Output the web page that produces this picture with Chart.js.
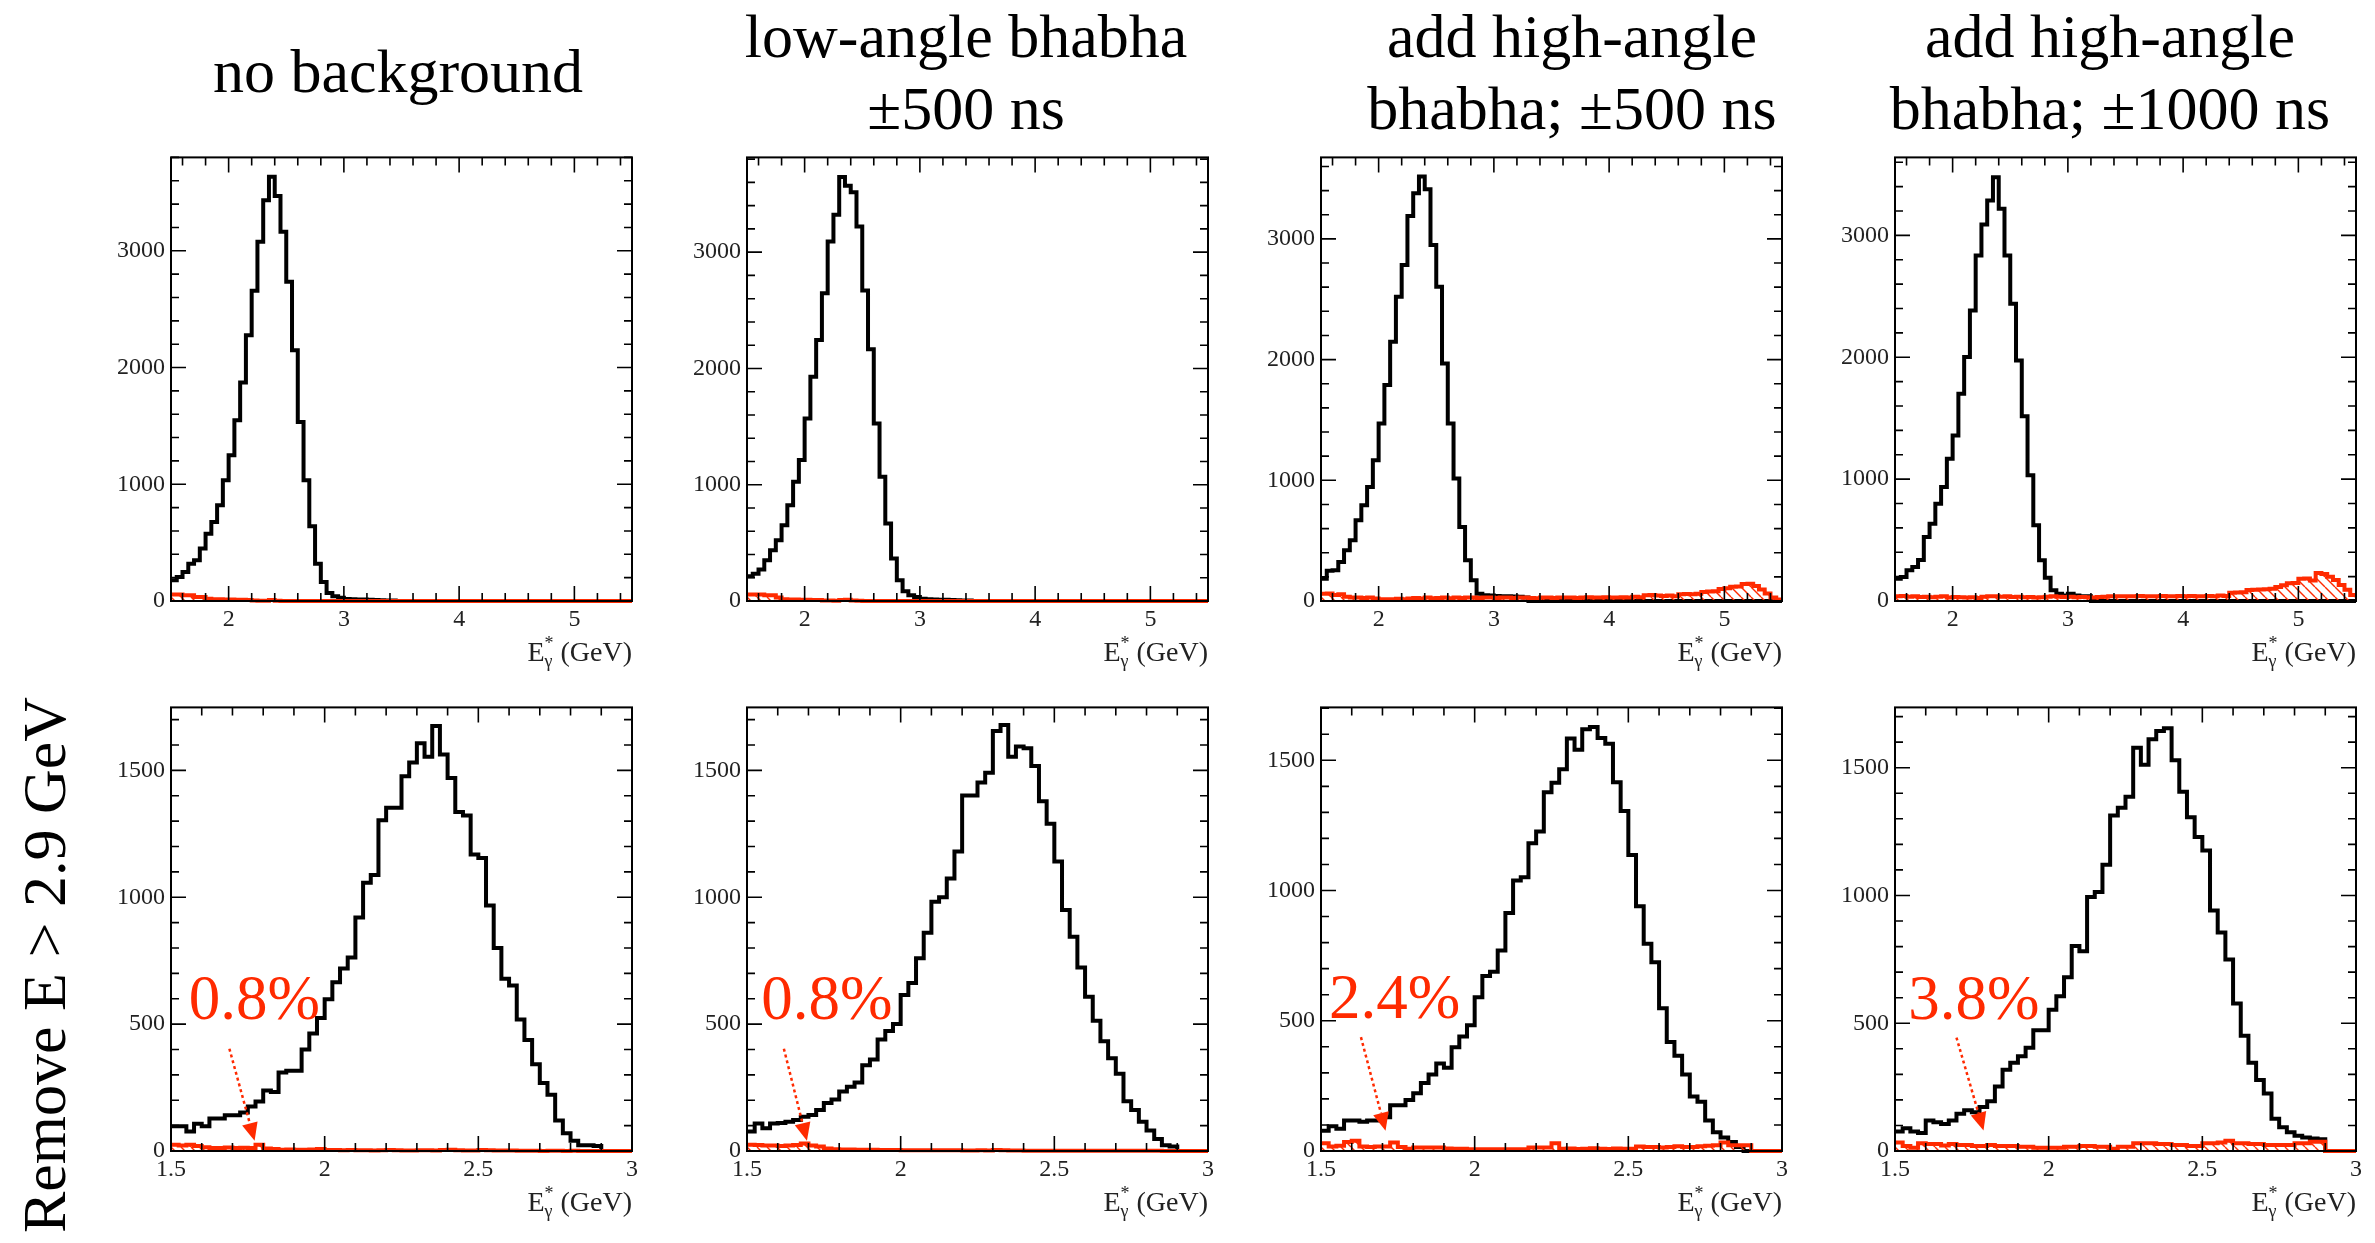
<!DOCTYPE html>
<html>
<head>
<meta charset="utf-8">
<title>E*γ spectra with bhabha background</title>
<script src="https://cdn.jsdelivr.net/npm/chart.js@4.4.1/dist/chart.umd.min.js"></script>
<style>
  body { margin: 0; background: #fff; }
  #page {
    position: relative;
    width: 2375px;
    height: 1243px;
    overflow: hidden;
    font-family: "Liberation Serif", "Times New Roman", serif;
    color: #000;
  }
  .panel { position: absolute; }
  .title {
    position: absolute;
    font-size: 62px;
    line-height: 72px;
    text-align: center;
    white-space: nowrap;
    transform: translateX(-50%);
  }
  .side {
    position: absolute;
    font-size: 62px;
    white-space: nowrap;
    transform: translate(-50%, -50%) rotate(-90deg);
  }
</style>
</head>
<body>
<div id="page"></div>
<script>
// ---- labels ----
const columnTitles = [
    ["no background"],
    ["low-angle bhabha", "±500 ns"],
    ["add high-angle", "bhabha; ±500 ns"],
    ["add high-angle", "bhabha; ±1000 ns"],
];
const sideTitle = "Remove E > 2.9 GeV";
const axisUnit = "(GeV)";
const lossLabels = ["0.8%", "0.8%", "2.4%", "3.8%"];

// ---- binning / tick labels ----
const fullRange = [1.5, 5.5];
const fullBin = 0.05;
const cutRange = [1.5, 3.0];
const cutBin = 0.025;
const fullXTicks = [2, 3, 4, 5];
const fullYTicks = [0, 1000, 2000, 3000];
const cutXTicks = [1.5, 2, 2.5, 3];
const cutYTicks = [0, 500, 1000, 1500];

// ---- top row: 1.5 - 5.5 GeV, 0.05 GeV bins (one row = 0.5 GeV) ----
const sigNoBg = [
    177, 206, 249, 320, 349, 449, 577, 677, 820, 1034,
    1249, 1549, 1871, 2277, 2657, 3077, 3434, 3634, 3469, 3163,
    2734, 2149, 1534, 1034, 640, 320, 163, 69, 40, 28,
    18, 15, 12, 12, 10, 8, 6, 5, 5, 0,
    0, 0, 0, 0, 0, 0, 0, 0, 0, 0,
    0, 0, 0, 0, 0, 0, 0, 0, 0, 0,
    0, 0, 0, 0, 0, 0, 0, 0, 0, 0,
    0, 0, 0, 0, 0, 0, 0, 0, 0, 0,
];
const bkgNoBg = [
    55, 55, 50, 50, 35, 35, 20, 15, 15, 12,
    12, 10, 10, 8, 5, 2, 3, 8, 3, 0,
    0, 0, 0, 0, 0, 0, 0, 0, 0, 0,
    0, 0, 0, 0, 0, 0, 0, 0, 0, 0,
    0, 0, 0, 0, 0, 0, 0, 0, 0, 0,
    0, 0, 0, 0, 0, 0, 0, 0, 0, 0,
    0, 0, 0, 0, 0, 0, 0, 0, 0, 0,
    0, 0, 0, 0, 0, 0, 0, 0, 0, 0,
];
const sigLowAngle = [
    212, 235, 270, 350, 436, 523, 652, 824, 1025, 1212,
    1570, 1929, 2245, 2647, 3092, 3322, 3646, 3572, 3515, 3221,
    2670, 2165, 1527, 1068, 666, 365, 178, 83, 49, 34,
    20, 15, 12, 10, 10, 8, 6, 5, 5, 0,
    0, 0, 0, 0, 0, 0, 0, 0, 0, 0,
    0, 0, 0, 0, 0, 0, 0, 0, 0, 0,
    0, 0, 0, 0, 0, 0, 0, 0, 0, 0,
    0, 0, 0, 0, 0, 0, 0, 0, 0, 0,
];
const bkgLowAngle = [
    55, 55, 55, 50, 50, 30, 15, 12, 12, 10,
    10, 8, 8, 5, 5, 3, 8, 10, 5, 2,
    0, 0, 0, 0, 0, 0, 0, 0, 0, 0,
    0, 0, 0, 0, 0, 0, 0, 0, 0, 0,
    0, 0, 0, 0, 0, 0, 0, 0, 0, 0,
    0, 0, 0, 0, 0, 0, 0, 0, 0, 0,
    0, 0, 0, 0, 0, 0, 0, 0, 0, 0,
    0, 0, 0, 0, 0, 0, 0, 0, 0, 0,
];
const sigHigh500 = [
    185, 250, 254, 323, 420, 503, 669, 793, 945, 1167,
    1471, 1789, 2148, 2521, 2784, 3190, 3378, 3517, 3412, 2950,
    2604, 1968, 1471, 1015, 614, 337, 171, 61, 47, 45,
    42, 40, 40, 38, 35, 30, 0, 0, 0, 0,
    0, 0, 0, 0, 0, 0, 0, 0, 0, 0,
    0, 0, 0, 0, 0, 0, 0, 0, 0, 0,
    0, 0, 0, 0, 0, 0, 0, 0, 0, 0,
    0, 0, 0, 0, 0, 0, 0, 0, 0, 0,
];
const bkgHigh500 = [
    60, 62, 50, 55, 35, 30, 30, 25, 28, 20,
    15, 15, 15, 18, 15, 20, 25, 20, 28, 22,
    25, 28, 22, 30, 25, 28, 30, 25, 28, 30,
    25, 28, 30, 25, 28, 30, 25, 22, 28, 30,
    25, 28, 30, 28, 25, 30, 32, 28, 30, 32,
    30, 28, 32, 30, 35, 32, 48, 50, 45, 42,
    45, 40, 55, 58, 55, 60, 75, 78, 80, 100,
    105, 118, 120, 140, 142, 125, 95, 62, 30, 12,
];
const sigHigh1000 = [
    183, 197, 252, 279, 336, 525, 634, 798, 935, 1168,
    1359, 1701, 2002, 2384, 2836, 3090, 3287, 3478, 3218, 2836,
    2439, 1974, 1515, 1031, 621, 334, 191, 88, 60, 46,
    60, 45, 40, 38, 0, 0, 0, 0, 0, 0,
    0, 0, 0, 0, 0, 0, 0, 0, 0, 0,
    0, 0, 0, 0, 0, 0, 0, 0, 0, 0,
    0, 0, 0, 0, 0, 0, 0, 0, 0, 0,
    0, 0, 0, 0, 0, 0, 0, 0, 0, 0,
];
const bkgHigh1000 = [
    40, 42, 35, 38, 32, 35, 30, 35, 38, 28,
    32, 30, 28, 30, 25, 35, 38, 40, 35, 38,
    32, 35, 30, 32, 28, 30, 35, 38, 35, 32,
    35, 30, 32, 30, 28, 32, 35, 38, 40, 38,
    40, 38, 42, 40, 38, 40, 42, 40, 38, 42,
    40, 42, 38, 40, 42, 40, 45, 42, 68, 70,
    72, 90, 92, 95, 97, 100, 115, 130, 145, 148,
    182, 185, 168, 230, 222, 200, 172, 132, 92, 50,
];

// ---- bottom row: 1.5 - 3.0 GeV, 0.025 GeV bins (one row = 0.25 GeV) ----
const sigNoBgCut = [
    98, 98, 77, 107, 98, 128, 128, 141, 141, 152,
    175, 195, 238, 232, 309, 316, 316, 400, 463, 524,
    598, 665, 719, 762, 920, 1057, 1088, 1303, 1353, 1353,
    1477, 1531, 1607, 1554, 1675, 1562, 1470, 1336, 1322, 1168,
    1155, 967, 800, 679, 652, 518, 437, 342, 268, 222,
    120, 70, 40, 23, 23, 20, 0, 0, 0, 0,
];
const bkgNoBgCut = [
    25, 22, 25, 20, 15, 12, 12, 14, 12, 13,
    12, 25, 10, 8, 5, 6, 5, 5, 6, 8,
    4, 4, 3, 4, 3, 3, 2, 3, 4, 3,
    2, 2, 3, 3, 2, 4, 5, 3, 2, 2,
    4, 3, 2, 2, 2, 1, 1, 1, 0, 1,
    1, 0, 1, 0, 0, 0, 0, 0, 0, 0,
];
const sigLowAngleCut = [
    77, 108, 90, 108, 110, 115, 122, 135, 142, 162,
    189, 203, 234, 253, 270, 338, 361, 439, 473, 500,
    615, 662, 760, 860, 982, 1000, 1074, 1180, 1401, 1401,
    1452, 1490, 1655, 1679, 1554, 1594, 1587, 1517, 1378, 1290,
    1141, 950, 844, 723, 608, 513, 432, 365, 304, 196,
    162, 115, 81, 47, 23, 18, 0, 0, 0, 0,
];
const bkgLowAngleCut = [
    25, 24, 22, 22, 20, 22, 24, 30, 22, 18,
    10, 7, 6, 6, 5, 5, 5, 4, 4, 4,
    3, 3, 3, 3, 3, 3, 3, 3, 2, 2,
    3, 2, 4, 3, 2, 2, 1, 1, 1, 1,
    1, 1, 1, 1, 1, 1, 1, 1, 1, 1,
    1, 1, 1, 1, 0, 0, 0, 0, 0, 0,
];
const sigHigh500Cut = [
    78, 95, 85, 117, 117, 112, 117, 117, 130, 176,
    176, 196, 222, 261, 294, 336, 320, 398, 440, 483,
    590, 672, 688, 770, 914, 1038, 1051, 1181, 1227, 1377,
    1414, 1466, 1584, 1540, 1619, 1628, 1586, 1563, 1416, 1305,
    1136, 940, 796, 725, 548, 418, 366, 294, 209, 189,
    117, 72, 52, 35, 15, 0, 0, 0, 0, 0,
];
const bkgHigh500Cut = [
    30, 17, 20, 35, 39, 17, 15, 17, 17, 33,
    15, 9, 13, 13, 13, 13, 10, 9, 9, 7,
    7, 7, 7, 7, 7, 7, 7, 13, 13, 13,
    30, 9, 10, 8, 9, 11, 9, 8, 10, 9,
    9, 17, 15, 15, 13, 15, 18, 15, 15, 18,
    20, 22, 33, 22, 22, 22, 0, 0, 0, 0,
];
const sigHigh1000Cut = [
    76, 89, 76, 70, 119, 113, 106, 119, 146, 159,
    152, 172, 195, 252, 318, 345, 371, 404, 473, 473,
    553, 606, 680, 802, 782, 994, 1014, 1120, 1313, 1343,
    1386, 1578, 1512, 1611, 1644, 1654, 1529, 1406, 1306, 1229,
    1176, 941, 855, 749, 577, 451, 345, 278, 225, 126,
    93, 73, 60, 53, 49, 46, 0, 0, 0, 0,
];
const bkgHigh1000Cut = [
    33, 20, 13, 30, 27, 27, 22, 27, 23, 23,
    20, 20, 23, 20, 20, 20, 17, 17, 13, 13,
    13, 13, 17, 17, 20, 20, 17, 17, 9, 17,
    17, 30, 30, 30, 27, 27, 23, 23, 20, 20,
    30, 30, 33, 40, 30, 30, 27, 27, 23, 23,
    23, 23, 30, 30, 36, 36, 0, 0, 0, 0,
];

// ---- style / layout ----
const RED = "#ff2a00";
const FONT = '"Liberation Serif", "Times New Roman", serif';
const FRAME_W = 461;
const FRAME_H = 450;
const PAD = { l: 90, r: 14, t: 14, b: 80 };
const colLeft = [171, 747, 1321, 1895];
const rowTop = [151, 701];
const titleX = [398, 966, 1572, 2110];

const page = document.getElementById("page");

function histPoints(values, lo, width) {
    const pts = values.map((v, i) => ({ x: lo + i * width, y: v }));
    pts.push({ x: lo + values.length * width, y: values[values.length - 1] });
    return pts;
}

function makeHatch() {
    const s = 10;
    const c = document.createElement("canvas");
    c.width = s;
    c.height = s;
    const g = c.getContext("2d");
    g.strokeStyle = RED;
    g.lineWidth = 1.4;
    for (const k of [-s, 0, s]) {
        g.beginPath();
        g.moveTo(k, 0);
        g.lineTo(k + s, s);
        g.stroke();
    }
    return g.createPattern(c, "repeat");
}
const hatch = makeHatch();

function tickValues(min, max, minor, major) {
    const out = [];
    const n0 = Math.ceil(min / minor - 1e-6);
    const n1 = Math.floor(max / minor + 1e-6);
    for (let n = n0; n <= n1; n++) {
        const v = n * minor;
        const r = v / major;
        out.push([v, Math.abs(r - Math.round(r)) < 1e-6]);
    }
    return out;
}

// frame + inward ticks on all four sides, ROOT style
const rootAxes = {
    id: "rootAxes",
    afterDatasetsDraw(chart, args, opts) {
        const { ctx, chartArea: a } = chart;
        const x = chart.scales.x;
        const y = chart.scales.y;
        ctx.save();
        ctx.strokeStyle = "#000";
        ctx.lineWidth = 1.6;
        ctx.beginPath();
        for (const [v, major] of tickValues(x.min, x.max, opts.xMinor, opts.xMajor)) {
            const px = x.getPixelForValue(v);
            const len = major ? 15 : 8;
            ctx.moveTo(px, a.bottom);
            ctx.lineTo(px, a.bottom - len);
            ctx.moveTo(px, a.top);
            ctx.lineTo(px, a.top + len);
        }
        for (const [v, major] of tickValues(y.min, y.max, opts.yMinor, opts.yMajor)) {
            const py = y.getPixelForValue(v);
            const len = major ? 15 : 8;
            ctx.moveTo(a.left, py);
            ctx.lineTo(a.left + len, py);
            ctx.moveTo(a.right, py);
            ctx.lineTo(a.right - len, py);
        }
        ctx.stroke();
        ctx.lineWidth = 2;
        ctx.strokeRect(a.left, a.top, a.right - a.left, a.bottom - a.top);
        ctx.restore();
    },
};

function drawEnergyTitle(ctx, right, base) {
    const big = `28px ${FONT}`;
    const small = `18px ${FONT}`;
    const unit = " " + axisUnit;
    ctx.fillStyle = "#222";
    ctx.textBaseline = "alphabetic";
    ctx.textAlign = "left";
    ctx.font = big;
    const wE = ctx.measureText("E").width;
    const wU = ctx.measureText(unit).width;
    ctx.font = small;
    const wS = Math.max(ctx.measureText("*").width, ctx.measureText("γ").width);
    const x0 = right - wE - wS - wU;
    ctx.font = big;
    ctx.fillText("E", x0, base);
    ctx.fillText(unit, x0 + wE + wS, base);
    ctx.font = small;
    ctx.fillText("*", x0 + wE, base - 12);
    ctx.fillText("γ", x0 + wE, base + 6);
}

function drawDottedArrow(ctx, x0, y0, x1, y1) {
    const ang = Math.atan2(y1 - y0, x1 - x0);
    const head = 18;
    const half = 8;
    const bx = x1 - head * Math.cos(ang);
    const by = y1 - head * Math.sin(ang);
    ctx.strokeStyle = RED;
    ctx.lineWidth = 2.5;
    ctx.setLineDash([3, 3]);
    ctx.beginPath();
    ctx.moveTo(x0, y0);
    ctx.lineTo(bx, by);
    ctx.stroke();
    ctx.setLineDash([]);
    ctx.fillStyle = RED;
    ctx.beginPath();
    ctx.moveTo(x1, y1);
    ctx.lineTo(bx + half * Math.sin(ang), by - half * Math.cos(ang));
    ctx.lineTo(bx - half * Math.sin(ang), by + half * Math.cos(ang));
    ctx.closePath();
    ctx.fill();
}

// axis title under the frame and the red loss note with its arrow
const rootNotes = {
    id: "rootNotes",
    afterDraw(chart, args, opts) {
        const { ctx, chartArea: a } = chart;
        const x = chart.scales.x;
        const y = chart.scales.y;
        ctx.save();
        drawEnergyTitle(ctx, a.right, a.bottom + 60);
        const n = opts.note;
        if (n) {
            ctx.fillStyle = RED;
            ctx.font = `63px ${FONT}`;
            ctx.textBaseline = "alphabetic";
            ctx.textAlign = "left";
            ctx.fillText(n.text, x.getPixelForValue(n.at[0]), y.getPixelForValue(n.at[1]));
            drawDottedArrow(
                ctx,
                x.getPixelForValue(n.tail[0]), y.getPixelForValue(n.tail[1]),
                x.getPixelForValue(n.head[0]), y.getPixelForValue(n.head[1])
            );
        }
        ctx.restore();
    },
};

const fullRow = { range: fullRange, bin: fullBin, xTicks: fullXTicks, yTicks: fullYTicks, xMinor: 0.2, xMajor: 1, yMinor: 200, yMajor: 1000 };
const cutRow = { range: cutRange, bin: cutBin, xTicks: cutXTicks, yTicks: cutYTicks, xMinor: 0.1, xMajor: 0.5, yMinor: 100, yMajor: 500 };

const panels = [
    { ...fullRow, col: 0, row: 0, yMax: 3800, sig: sigNoBg, bkg: bkgNoBg },
    { ...fullRow, col: 1, row: 0, yMax: 3815, sig: sigLowAngle, bkg: bkgLowAngle },
    { ...fullRow, col: 2, row: 0, yMax: 3675, sig: sigHigh500, bkg: bkgHigh500 },
    { ...fullRow, col: 3, row: 0, yMax: 3640, sig: sigHigh1000, bkg: bkgHigh1000 },
    { ...cutRow, col: 0, row: 1, yMax: 1748, sig: sigNoBgCut, bkg: bkgNoBgCut,
      note: { text: lossLabels[0], at: [1.558, 520], tail: [1.69, 403], head: [1.772, 40] } },
    { ...cutRow, col: 1, row: 1, yMax: 1748, sig: sigLowAngleCut, bkg: bkgLowAngleCut,
      note: { text: lossLabels[1], at: [1.546, 520], tail: [1.62, 403], head: [1.695, 40] } },
    { ...cutRow, col: 2, row: 1, yMax: 1703, sig: sigHigh500Cut, bkg: bkgHigh500Cut,
      note: { text: lossLabels[2], at: [1.526, 509], tail: [1.63, 437], head: [1.71, 78] } },
    { ...cutRow, col: 3, row: 1, yMax: 1736, sig: sigHigh1000Cut, bkg: bkgHigh1000Cut,
      note: { text: lossLabels[3], at: [1.543, 517], tail: [1.70, 444], head: [1.788, 80] } },
];

function tickFont() {
    return { family: FONT, size: 24 };
}

function buildPanel(p) {
    const wrap = document.createElement("div");
    wrap.className = "panel";
    wrap.style.left = colLeft[p.col] - PAD.l + "px";
    wrap.style.top = rowTop[p.row] - PAD.t + "px";
    const canvas = document.createElement("canvas");
    canvas.width = FRAME_W + PAD.l + PAD.r;
    canvas.height = FRAME_H + PAD.t + PAD.b;
    wrap.appendChild(canvas);
    page.appendChild(wrap);

    new Chart(canvas, {
        type: "line",
        data: {
            datasets: [
                {
                    data: histPoints(p.bkg, p.range[0], p.bin),
                    borderColor: RED,
                    borderWidth: 4,
                    backgroundColor: hatch,
                    fill: "origin",
                    stepped: true,
                    pointRadius: 0,
                    clip: false,
                },
                {
                    data: histPoints(p.sig, p.range[0], p.bin),
                    borderColor: "#000",
                    borderWidth: 4,
                    fill: false,
                    stepped: true,
                    pointRadius: 0,
                    clip: false,
                },
            ],
        },
        options: {
            responsive: false,
            animation: false,
            events: [],
            layout: { padding: { top: PAD.t, right: PAD.r, left: 0, bottom: 0 } },
            plugins: {
                legend: { display: false },
                tooltip: { enabled: false },
                rootAxes: { xMinor: p.xMinor, xMajor: p.xMajor, yMinor: p.yMinor, yMajor: p.yMajor },
                rootNotes: { note: p.note },
            },
            scales: {
                x: {
                    type: "linear",
                    min: p.range[0],
                    max: p.range[1],
                    grid: { display: false, drawTicks: false },
                    border: { display: false },
                    ticks: {
                        font: tickFont(),
                        color: "#222",
                        padding: 4,
                        autoSkip: false,
                        maxRotation: 0,
                        callback: (v) => String(v),
                    },
                    afterBuildTicks: (s) => {
                        s.ticks = p.xTicks.map((v) => ({ value: v }));
                    },
                    afterFit: (s) => {
                        s.height = PAD.b;
                    },
                },
                y: {
                    type: "linear",
                    min: 0,
                    max: p.yMax,
                    grid: { display: false, drawTicks: false },
                    border: { display: false },
                    ticks: {
                        font: tickFont(),
                        color: "#222",
                        padding: 6,
                        autoSkip: false,
                        callback: (v) => String(v),
                    },
                    afterBuildTicks: (s) => {
                        s.ticks = p.yTicks.map((v) => ({ value: v }));
                    },
                    afterFit: (s) => {
                        s.width = PAD.l;
                    },
                },
            },
        },
        plugins: [rootAxes, rootNotes],
    });
}

columnTitles.forEach((lines, i) => {
    const t = document.createElement("div");
    t.className = "title";
    t.style.left = titleX[i] + "px";
    t.style.top = (lines.length === 1 ? 35 : 0) + "px";
    t.innerHTML = lines.join("<br>");
    page.appendChild(t);
});

const side = document.createElement("div");
side.className = "side";
side.style.left = "44px";
side.style.top = "965px";
side.textContent = sideTitle;
page.appendChild(side);

panels.forEach(buildPanel);
</script>
</body>
</html>
